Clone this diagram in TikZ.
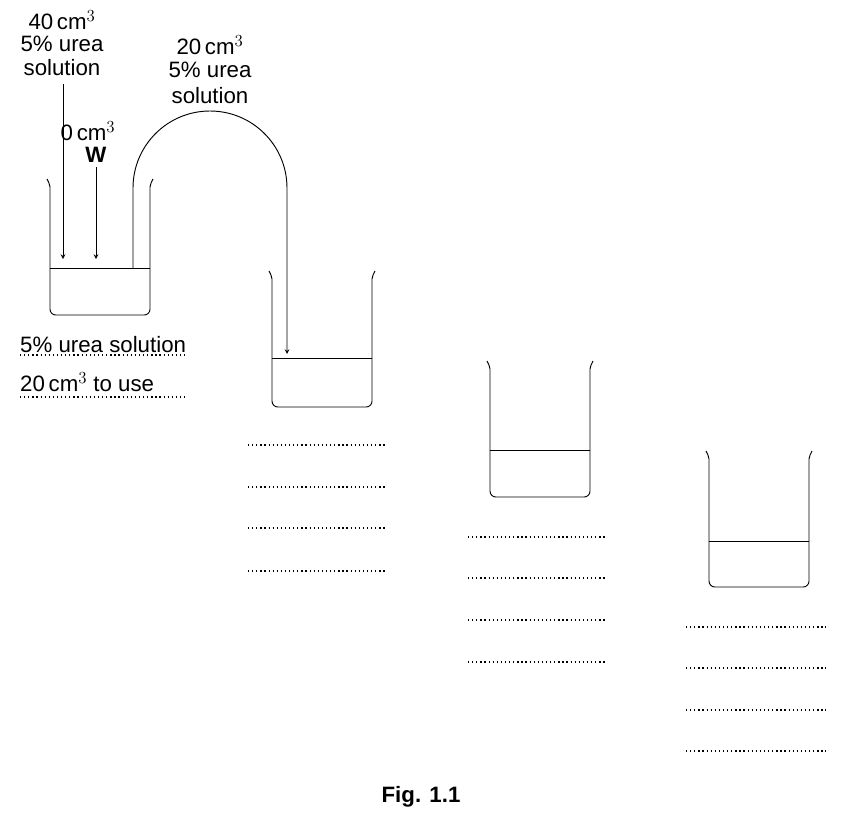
\documentclass[tikz,border=0pt]{standalone}
\usepackage{fontspec}
\setmainfont{Liberation Sans}
\tikzset{
  lbl/.style={font=\fontsize{19}{22}\selectfont, inner sep=0pt},
  dots/.style={line width=1.1pt, dash pattern=on 1.1pt off 2.4pt},
  wall/.style={line width=0.8pt},
}
% beaker: left x, top y, liquid y (width 100, height 130)
\newcommand{\beaker}[3]{%
  \draw[wall] (#1-3,#2-6) to[out=-70,in=90] (#1,#2+2)
    [rounded corners=5] -- (#1,#2+130) -- (#1+100,#2+130) [sharp corners] -- (#1+100,#2+2)
    to[out=90,in=-110] (#1+103,#2-6);
  \draw[wall] (#1,#3) -- (#1+100,#3);
}
\begin{document}
\begin{tikzpicture}[x=0.03cm,y=-0.03cm]
  \useasboundingbox (0,0) rectangle (843,839);

  \beaker{50}{185}{268}
  \beaker{272}{277}{358}
  \beaker{490}{367}{450}
  \beaker{709}{457}{541}

  % labels above first beaker
  \node[lbl] (a1) at (62,20) {40\,cm$^3$};
  \node[lbl] (a2) at (62,44) {5\% urea};
  \node[lbl] (a3) at (62,68) {solution};
  \node[lbl] (w1) at (88,131) {0\,cm$^3$};
  \node[lbl,font=\fontsize{19}{22}\selectfont\bfseries] (w2) at (96,155) {W};
  \node[lbl] (b1) at (210,45) {20\,cm$^3$};
  \node[lbl] (b2) at (210,70) {5\% urea};
  \node[lbl] (b3) at (210,96) {solution};

  \coordinate (tipA) at (63,259);
  \coordinate (tipW) at (96,259);
  \coordinate (tubeL) at (133,268);
  \coordinate (tipT) at (287,354);
  \draw[wall,-stealth] (63,84) -- (tipA);
  \draw[wall,-stealth] (w2.south) ++(0,4) -- (tipW);
  \draw[wall,-stealth] (tubeL) -- (133,188) arc[start angle=180,end angle=360,radius=77] -- (tipT);

  % left answers
  \node[lbl,anchor=west] (s1) at (20,345) {5\% urea solution};
  \node[lbl,anchor=west] (s2) at (20,382) {20\,cm$^3$ to use};
  \draw[dots] (20,355) -- (188,355);
  \draw[dots] (20,397) -- (188,397);

  % blank answer lines
  \foreach \y in {445,487,528,571} \draw[dots] (248,\y) -- (387,\y);
  \foreach \y in {537,578,620,662} \draw[dots] (468,\y) -- (606,\y);
  \foreach \y in {627,668,710,751} \draw[dots] (686,\y) -- (826,\y);

  \node[lbl,font=\fontsize{19}{22}\selectfont\bfseries] (fig) at (421,797) {Fig. 1.1};
\end{tikzpicture}
\end{document}
